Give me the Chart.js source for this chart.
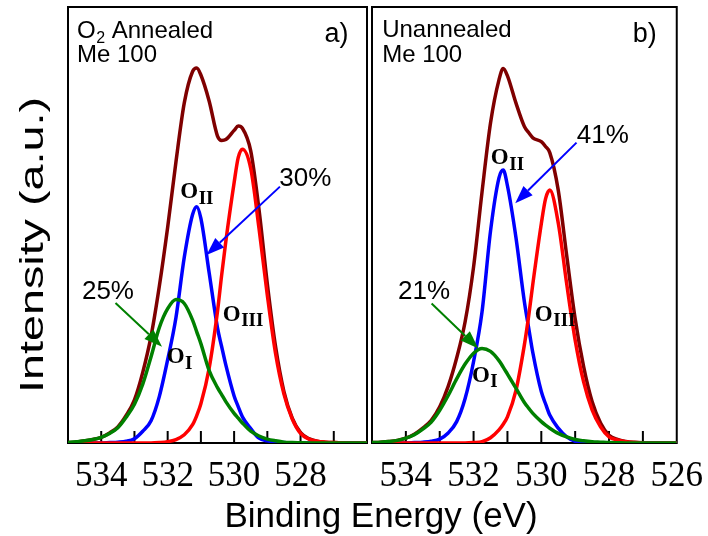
<!DOCTYPE html>
<html>
<head>
<meta charset="utf-8">
<title>O 1s XPS - Me 100</title>
<script src="https://cdn.jsdelivr.net/npm/chart.js@4.4.1/dist/chart.umd.min.js"></script>
<style>
  html, body { margin: 0; padding: 0; background: #fff; }
  #wrap { position: relative; width: 708px; height: 536px; overflow: hidden; }
  #panelA { position: absolute; left: 0; top: 0; }
  #panelB { position: absolute; left: 340px; top: 0; }
  #xTitle {
    position: absolute; left: 381px; top: 497px; transform: translateX(-50%);
    font: 35px/35px "Liberation Sans", Arial, sans-serif; color: #000; white-space: nowrap;
  }
</style>
</head>
<body>
<div id="wrap">
  <canvas id="panelA" width="372" height="536"></canvas>
  <canvas id="panelB" width="368" height="536"></canvas>
  <div id="xTitle">Binding Energy (eV)</div>
</div>
<script>
// -----------------------------------------
// Data: O 1s spectra, binding energy in eV
// -----------------------------------------

// energy grid shared by both panels
const energy = [535, 534.75, 534.5, 534.25, 534, 533.75, 533.5, 533.25, 533, 532.75,
                532.5, 532.25, 532, 531.75, 531.5, 531.25, 531.125, 531, 530.75, 530.5,
                530.375, 530.25, 530, 529.875, 529.75, 529.5, 529.25, 529, 528.75, 528.5,
                528.25, 528, 527.75, 527.5, 527.25, 527, 526.5, 526];

const tickLabelsA = [534, 532, 530, 528];
const tickLabelsB = [534, 532, 530, 528, 526];

// a) O2 annealed
const envelopeA = [0.1, 0.2, 0.5, 0.8, 1.3, 2.3, 3.7, 6.3, 9.9, 16.2,
                   24.5, 36.0, 49.5, 64.5, 78.0, 85.2, 86.0, 84.4, 78.4, 70.4,
                   69.4, 69.6, 71.7, 72.7, 72.2, 67.0, 53.5, 36.5, 22.0, 11.8,
                   5.7, 2.4, 1.0, 0.4, 0.2, 0.1, 0, 0];
const oIA = [0.1, 0.3, 0.5, 0.8, 1.3, 2.2, 3.5, 5.9, 8.9, 13.5,
             19.8, 26.5, 30.8, 32.9, 32.0, 28.2, 25.5, 22.8, 16.6, 12.7,
             11.1, 9.5, 6.8, 5.7, 4.6, 2.7, 1.6, 0.9, 0.5, 0.2,
             0.1, 0.05, 0, 0, 0, 0, 0, 0];
const oIIA = [0, 0, 0, 0, 0, 0.1, 0.2, 0.4, 1.0, 2.7,
              5.1, 10.7, 19.1, 28.8, 42.6, 52.4, 54.2, 51.5, 39.0, 26.4,
              22.1, 17.9, 10.8, 8.3, 6.0, 3.3, 1.1, 0.5, 0.2, 0.1,
              0, 0, 0, 0, 0, 0, 0, 0];
const oIIIA = [0, 0, 0, 0, 0, 0, 0, 0, 0, 0,
               0, 0.1, 0.3, 0.8, 1.9, 4.2, 6.3, 9.0, 17.2, 30.2,
               38.5, 46.2, 59.7, 65.5, 67.4, 63.0, 49.2, 33.9, 20.4, 11.2,
               5.5, 2.2, 0.9, 0.4, 0.2, 0.1, 0, 0];

// b) unannealed
const envelopeB = [0.1, 0.2, 0.35, 0.6, 1.1, 2.0, 3.4, 5.2, 8.3, 13.0,
                   19.5, 27.8, 40.4, 57.6, 73.4, 83.3, 85.9, 84.2, 78.0, 72.6,
                   71.2, 70.0, 69.1, 68.0, 66.6, 58.0, 43.0, 28.5, 17.5, 9.5,
                   4.6, 1.8, 0.8, 0.35, 0.15, 0.05, 0, 0];
const oIB = [0.1, 0.2, 0.35, 0.6, 1.1, 1.9, 3.2, 4.8, 7.5, 10.9,
             14.7, 18.1, 20.6, 21.7, 21.0, 18.9, 17.4, 15.8, 12.6, 9.3,
             8.0, 6.8, 4.9, 4.1, 3.4, 2.2, 1.4, 0.8, 0.5, 0.3,
             0.2, 0.1, 0.05, 0, 0, 0, 0, 0];
const oIIB = [0, 0, 0, 0, 0, 0.1, 0.2, 0.4, 0.9, 2.3,
              4.9, 10.2, 18.7, 30.1, 48.6, 60.8, 62.6, 59.0, 47.2, 32.4,
              26.5, 20.7, 11.8, 9.0, 6.4, 3.4, 1.4, 0.4, 0.2, 0.1,
              0, 0, 0, 0, 0, 0, 0, 0];
const oIIIB = [0, 0, 0, 0, 0, 0, 0, 0, 0, 0,
               0, 0, 0.1, 0.3, 1.2, 3.0, 4.3, 6.0, 12.0, 22.5,
               29.0, 36.5, 50.3, 56.0, 58.0, 50.5, 36.5, 23.6, 14.0, 7.6,
               3.7, 1.4, 0.7, 0.3, 0.1, 0, 0, 0];

const SANS  = '"Liberation Sans", Arial, sans-serif';
const SERIF = '"Liberation Serif", "Times New Roman", serif';

const COL_ENV = '#7f0000';
const COL_I   = '#008000';
const COL_II  = '#0000ff';
const COL_III = '#ff0000';

// text and arrow placement, in (energy, intensity) units
const panelA = {
  canvas: 'panelA', axisWidth: 68, padRight: 1, tickLabels: tickLabelsA,
  curves: [oIA, oIIIA, oIIA, envelopeA],
  heading: { e: 534.73, v1: 92.9, v2: 87.4, first: 'Annealed', sub: true, second: 'Me 100' },
  letter: { e: 527.28, v: 92.0, text: 'a)' },
  pctII: { text: '30%', e: 528.64, v: 58.9, from: [528.62, 58.8], to: [530.83, 43.1] },
  pctI:  { text: '25%', e: 534.58, v: 33.0, from: [533.57, 32.1], to: [532.17, 22.1] },
  tagII:  { e: 531.62, v: 56.1 },
  tagIII: { e: 530.34, v: 28.0 },
  tagI:   { e: 532.03, v: 18.3 },
  yTitle: true
};

const panelB = {
  canvas: 'panelB', axisWidth: 32, padRight: 31, tickLabels: tickLabelsB,
  curves: [oIB, oIIIB, oIIB, envelopeB],
  heading: { e: 534.70, v1: 93.1, v2: 87.4, first: 'Unannealed', sub: false, second: 'Me 100' },
  letter: { e: 527.30, v: 92.0, text: 'b)' },
  pctII: { text: '41%', e: 528.95, v: 68.8, from: [528.96, 68.9], to: [530.77, 55.0] },
  pctI:  { text: '21%', e: 534.23, v: 33.0, from: [533.24, 32.0], to: [531.86, 21.7] },
  tagII:  { e: 531.49, v: 63.9 },
  tagIII: { e: 530.19, v: 28.0 },
  tagI:   { e: 532.05, v: 14.0 },
  yTitle: false
};

// -----------------------------------------
// Drawing helpers
// -----------------------------------------

function toPoints(vals) {
  return energy.map((e, i) => ({ x: e, y: vals[i] }));
}

function drawArrow(ctx, x1, y1, x2, y2, color) {
  const ang = Math.atan2(y2 - y1, x2 - x1);
  const len = 18, half = 6.5;
  const bx = x2 - len * Math.cos(ang), by = y2 - len * Math.sin(ang);
  ctx.save();
  ctx.strokeStyle = color;
  ctx.fillStyle = color;
  ctx.lineWidth = 2;
  ctx.beginPath();
  ctx.moveTo(x1, y1);
  ctx.lineTo(bx, by);
  ctx.stroke();
  ctx.beginPath();
  ctx.moveTo(x2, y2);
  ctx.lineTo(bx + half * Math.sin(ang), by - half * Math.cos(ang));
  ctx.lineTo(bx - half * Math.sin(ang), by + half * Math.cos(ang));
  ctx.closePath();
  ctx.fill();
  ctx.restore();
}

// bold "O" with a roman-numeral subscript
function drawTag(ctx, x, y, numeral) {
  ctx.save();
  ctx.fillStyle = '#000';
  ctx.textAlign = 'left';
  ctx.textBaseline = 'alphabetic';
  ctx.font = 'bold 23px ' + SERIF;
  ctx.fillText('O', x, y);
  const w = ctx.measureText('O').width;
  ctx.font = 'bold 19px ' + SERIF;
  ctx.fillText(numeral, x + w + 0.5, y + 5.5);
  ctx.restore();
}

const panelDecor = {
  id: 'panelDecor',
  beforeDatasetsDraw(chart, args, opts) {
    const { ctx, chartArea: a, scales: { x } } = chart;
    ctx.save();
    ctx.strokeStyle = '#000';
    ctx.lineWidth = 2;
    ctx.strokeRect(a.left, a.top, a.right - a.left, a.bottom - a.top);
    // inward tick marks, one per eV
    x.ticks.forEach(t => {
      if (t.value <= x.min || t.value >= x.max) return;
      const px = x.getPixelForValue(t.value);
      ctx.beginPath();
      ctx.moveTo(px, a.bottom);
      ctx.lineTo(px, a.bottom - 12);
      ctx.stroke();
    });
    ctx.restore();
  },
  afterDatasetsDraw(chart, args, opts) {
    const p = opts.panel;
    const { ctx, scales: { x, y } } = chart;
    const X = e => x.getPixelForValue(e);
    const Y = v => y.getPixelForValue(v);

    ctx.save();
    ctx.fillStyle = '#000';
    ctx.textAlign = 'left';
    ctx.textBaseline = 'alphabetic';

    // sample heading
    const h = p.heading;
    let hx = X(h.e);
    ctx.font = '24px ' + SANS;
    if (h.sub) {
      ctx.fillText('O', hx, Y(h.v1));
      hx += ctx.measureText('O').width + 0.5;
      ctx.font = '16px ' + SANS;
      ctx.fillText('2', hx, Y(h.v1) + 5);
      hx += ctx.measureText('2').width;
      ctx.font = '24px ' + SANS;
      ctx.fillText(' ' + h.first, hx, Y(h.v1));
    } else {
      ctx.fillText(h.first, hx, Y(h.v1));
    }
    ctx.fillText(h.second, X(h.e), Y(h.v2));

    ctx.font = '27px ' + SANS;
    ctx.fillText(p.letter.text, X(p.letter.e), Y(p.letter.v));

    // percentages with arrows
    ctx.font = '26px ' + SANS;
    ctx.fillText(p.pctII.text, X(p.pctII.e), Y(p.pctII.v));
    ctx.fillText(p.pctI.text, X(p.pctI.e), Y(p.pctI.v));
    drawArrow(ctx, X(p.pctII.from[0]), Y(p.pctII.from[1]), X(p.pctII.to[0]), Y(p.pctII.to[1]), COL_II);
    drawArrow(ctx, X(p.pctI.from[0]), Y(p.pctI.from[1]), X(p.pctI.to[0]), Y(p.pctI.to[1]), COL_I);

    drawTag(ctx, X(p.tagII.e), Y(p.tagII.v), 'II');
    drawTag(ctx, X(p.tagIII.e), Y(p.tagIII.v), 'III');
    drawTag(ctx, X(p.tagI.e), Y(p.tagI.v), 'I');
    ctx.restore();

    if (p.yTitle) {
      const label = 'Intensity (a.u.)';
      ctx.save();
      ctx.fillStyle = '#000';
      ctx.font = '34px ' + SANS;
      const w = ctx.measureText(label).width;
      ctx.translate(43, 245);
      ctx.rotate(-Math.PI / 2);
      ctx.scale(296 / w, 1);
      ctx.textAlign = 'center';
      ctx.textBaseline = 'alphabetic';
      ctx.fillText(label, 0, 0);
      ctx.restore();
    }
  }
};

function buildPanel(p) {
  const colors = [COL_I, COL_III, COL_II, COL_ENV];
  const datasets = p.curves.map((vals, i) => ({
    data: toPoints(vals),
    borderColor: colors[i],
    borderWidth: 3.5,
    pointRadius: 0,
    fill: false,
    cubicInterpolationMode: 'monotone'
  }));

  return new Chart(document.getElementById(p.canvas), {
    type: 'line',
    data: { datasets },
    options: {
      responsive: false,
      animation: false,
      devicePixelRatio: 1,
      layout: { padding: { top: 7, right: p.padRight, left: 0, bottom: 0 } },
      plugins: {
        legend: { display: false },
        tooltip: { enabled: false },
        panelDecor: { panel: p }
      },
      scales: {
        x: {
          type: 'linear',
          min: 526,
          max: 535,
          reverse: true,
          grid: { display: false },
          border: { display: false },
          ticks: {
            stepSize: 1,
            autoSkip: false,
            minRotation: 0,
            maxRotation: 0,
            padding: 5,
            color: '#000',
            font: { family: SERIF, size: 35, lineHeight: 1.2 },
            callback: v => (p.tickLabels.includes(v) ? String(v) : '')
          },
          afterFit: s => { s.height = 93; }
        },
        y: {
          min: 0,
          max: 100,
          grid: { display: false },
          border: { display: false },
          ticks: { display: false },
          afterFit: s => { s.width = p.axisWidth; }
        }
      }
    },
    plugins: [panelDecor]
  });
}

buildPanel(panelA);
buildPanel(panelB);
</script>
</body>
</html>
